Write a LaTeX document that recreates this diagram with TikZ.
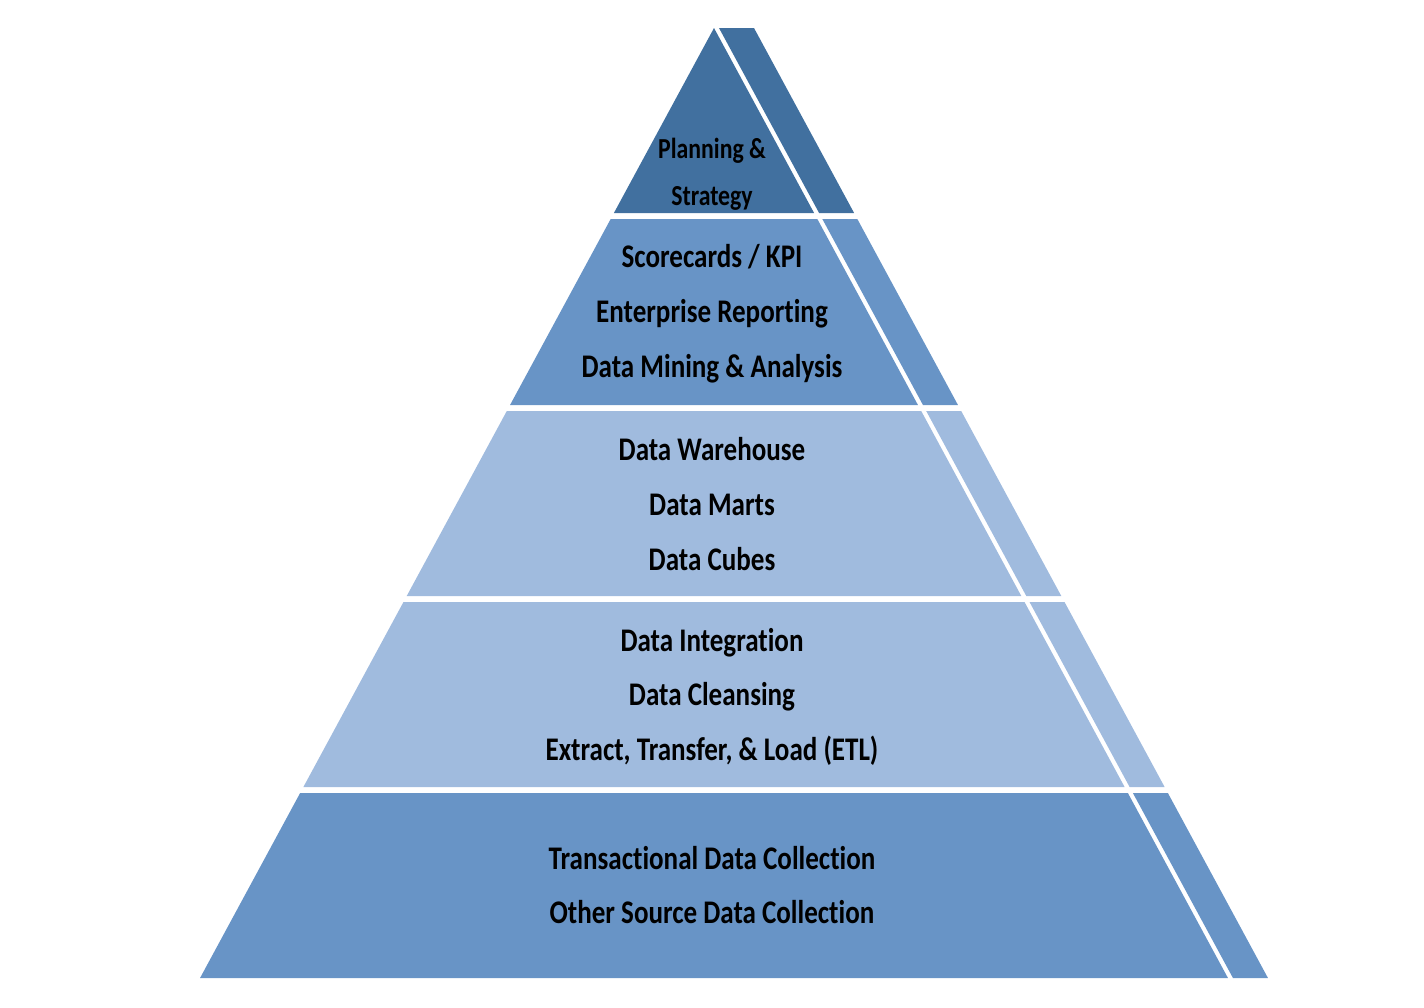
\documentclass[tikz,border=0pt]{standalone}
\usepackage{fontspec}
\newfontfamily\pyrfont{Carlito}[FakeStretch=0.82, Ligatures=NoCommon]
\usepackage{tikz}
\usetikzlibrary{calc}
\definecolor{apex}{HTML}{41709F}
\definecolor{mid}{HTML}{6894C6}
\definecolor{pale}{HTML}{A0BBDE}

\begin{document}
\begin{tikzpicture}[x=1pt, y=-1pt,
  layertext/.style={anchor=base, inner sep=0pt, text=black, font=\pyrfont\bfseries\fontsize{33}{38}\selectfont},
  toptext/.style={layertext, font=\pyrfont\bfseries\fontsize{29}{34}\selectfont}]
\useasboundingbox (0,0) rectangle (1424,1007);
% top layer and its side strip
\fill[apex] (714,28) -- (814.1,213) -- (613.9,213) -- cycle;
\fill[apex] (719,28) -- (754,28) -- (854.1,213) -- (819.1,213) -- cycle;
% lower layers: body and side strip
\foreach \t/\b/\c in {219/405/mid, 411/596/pale, 602/787/pale, 793/978/mid} {
  \fill[\c] ({714-0.541*(\t-28)},\t) -- ({714+0.541*(\t-28)},\t) -- ({714+0.541*(\b-28)},\b) -- ({714-0.541*(\b-28)},\b) -- cycle;
  \fill[\c] ({719+0.541*(\t-28)},\t) -- ({754+0.541*(\t-28)},\t) -- ({754+0.541*(\b-28)},\b) -- ({719+0.541*(\b-28)},\b) -- cycle;
}
% labels
\node[toptext] (plan) at (712,158) {Planning \&};
\node[toptext] (strat) at (712,205) {Strategy};
\node[layertext] (kpi) at (712,267) {Scorecards / KPI};
\node[layertext] (report) at (712,322) {Enterprise Reporting};
\node[layertext] (mining) at (712,377) {Data Mining \& Analysis};
\node[layertext] (dwh) at (712,460) {Data Warehouse};
\node[layertext] (marts) at (712,515) {Data Marts};
\node[layertext] (cubes) at (712,570) {Data Cubes};
\node[layertext] (integ) at (712,651) {Data Integration};
\node[layertext] (cleans) at (712,705) {Data Cleansing};
\node[layertext] (etl) at (712,760) {Extract, Transfer, \& Load (ETL)};
\node[layertext] (trans) at (712,869) {Transactional Data Collection};
\node[layertext] (other) at (712,923) {Other Source Data Collection};
\end{tikzpicture}
\end{document}
